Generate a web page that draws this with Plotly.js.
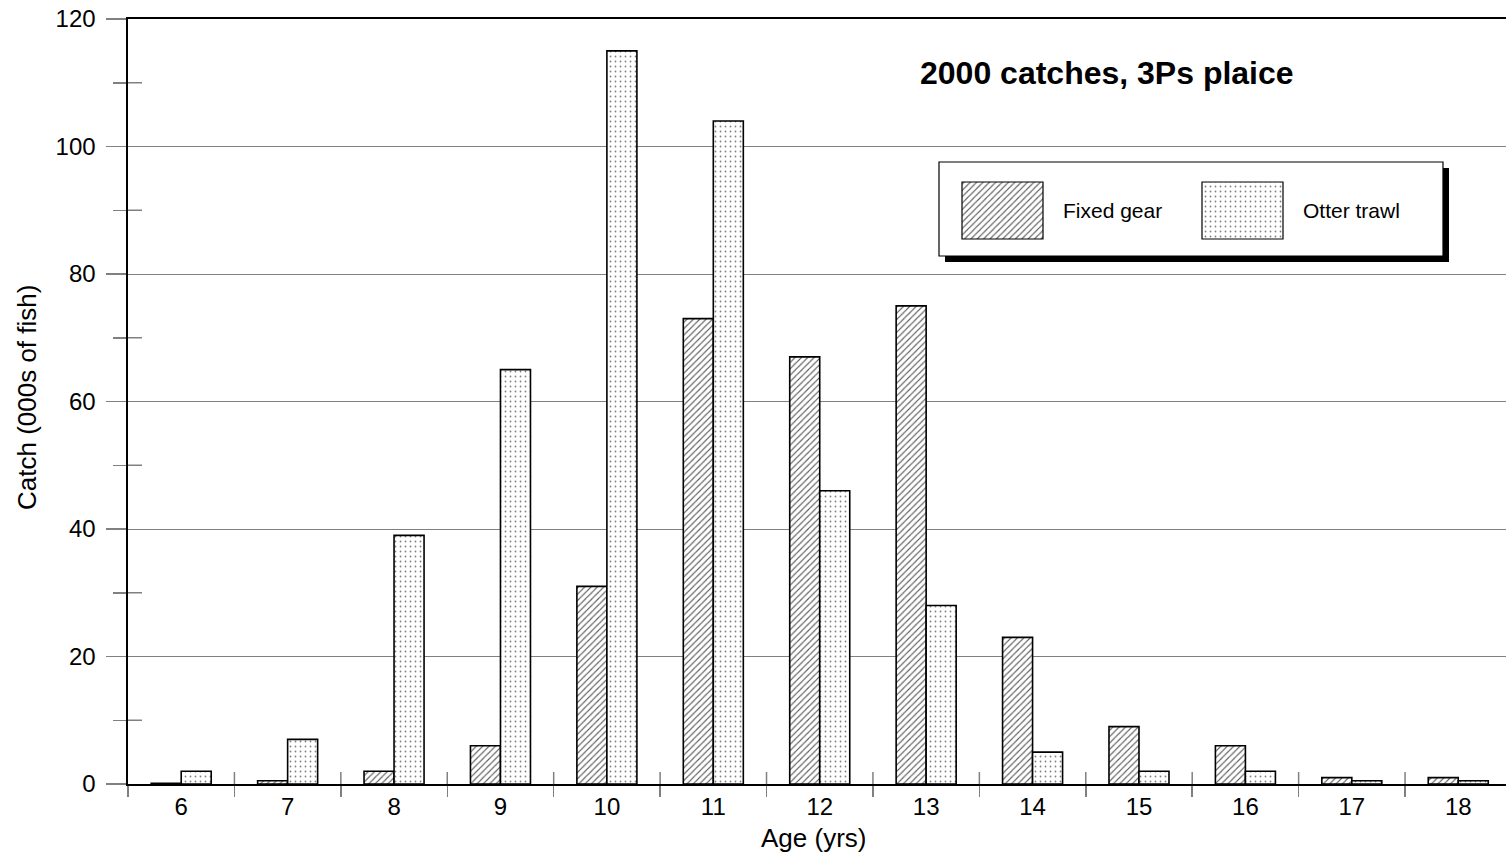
<!DOCTYPE html>
<html>
<head>
<meta charset="utf-8">
<script src="https://cdn.plot.ly/plotly-3.0.1.min.js"></script>
<style>html,body{margin:0;padding:0;background:#fff;}#chart{width:1506px;height:856px;}</style>
</head>
<body>
<div id="chart"></div>
<script>
// ---- data ----
const ages = [6, 7, 8, 9, 10, 11, 12, 13, 14, 15, 16, 17, 18];
const fixedGear = [0.1, 0.5, 2, 6, 31, 73, 67, 75, 23, 9, 6, 1, 1];
const otterTrawl = [2, 7, 39, 65, 115, 104, 46, 28, 5, 2, 2, 0.5, 0.5];
const seriesNames = ['Fixed gear', 'Otter trawl'];
const yTicks = [0, 20, 40, 60, 80, 100, 120];
const yMinorTicks = [10, 30, 50, 70, 90, 110];
const chartTitle = '2000 catches, 3Ps plaice';
const xTitle = 'Age (yrs)';
const yTitle = 'Catch (000s of fish)';

// ---- layout constants (pixels) ----
const W = 1506, H = 856;
const M = {l: 128, r: 0, t: 19, b: 72};
const PW = W - M.l - M.r, PH = H - M.t - M.b;
const catPx = 106.42;
const xMin = ages[0] - 0.5;
const xMax = xMin + PW / catPx;
const FONT = 'Arial, "Liberation Sans", sans-serif';
const GRAY = '#808080';

const boundaries = ages.map(a => a - 0.5);

const hatch = {shape: '/', fgcolor: '#5a5a5a', bgcolor: '#ffffff', size: 4.5, solidity: 0.25};
const dots = {shape: '.', fgcolor: '#808080', bgcolor: '#ffffff', size: 5, solidity: 0.1};
const barLine = {color: '#000000', width: 1.6};

// legend geometry in pixel coords (x2/y2 axes map to pixels)
const LEG = {box: [939, 162, 1443, 256], shadow: 6,
  sw: [{x0: 962, x1: 1043}, {x0: 1202, x1: 1283}], swY: [182, 239],
  text: [1062, 1302], textY: 210};

const traces = [
  {type: 'bar', name: seriesNames[0], x: ages, y: fixedGear,
   marker: {color: '#ffffff', pattern: hatch, line: barLine}, showlegend: false, hoverinfo: 'x+y'},
  {type: 'bar', name: seriesNames[1], x: ages, y: otterTrawl,
   marker: {color: '#ffffff', pattern: dots, line: barLine}, showlegend: false, hoverinfo: 'x+y'},
  // legend swatches
  {type: 'bar', xaxis: 'x2', yaxis: 'y2', x: [(LEG.sw[0].x0 + LEG.sw[0].x1) / 2], width: [LEG.sw[0].x1 - LEG.sw[0].x0],
   base: [LEG.swY[0]], y: [LEG.swY[1] - LEG.swY[0]],
   marker: {color: '#ffffff', pattern: hatch, line: {color: '#000', width: 1.2}}, showlegend: false, hoverinfo: 'skip'},
  {type: 'bar', xaxis: 'x2', yaxis: 'y2', x: [(LEG.sw[1].x0 + LEG.sw[1].x1) / 2], width: [LEG.sw[1].x1 - LEG.sw[1].x0],
   base: [LEG.swY[0]], y: [LEG.swY[1] - LEG.swY[0]],
   marker: {color: '#ffffff', pattern: dots, line: {color: '#000', width: 1.2}}, showlegend: false, hoverinfo: 'skip'}
];

const shapes = [];
// legend shadow and box
shapes.push({type: 'rect', xref: 'x2', yref: 'y2', layer: 'between',
  x0: LEG.box[0] + LEG.shadow, x1: LEG.box[2] + LEG.shadow, y0: LEG.box[1] + LEG.shadow, y1: LEG.box[3] + LEG.shadow,
  fillcolor: '#000', line: {width: 0}});
shapes.push({type: 'rect', xref: 'x2', yref: 'y2', layer: 'between',
  x0: LEG.box[0], x1: LEG.box[2], y0: LEG.box[1], y1: LEG.box[3],
  fillcolor: '#fff', line: {color: '#000', width: 1.2}});
// inside halves of crossing ticks on x axis
boundaries.slice(1).forEach(b => shapes.push({type: 'line', xref: 'x', yref: 'y', ysizemode: 'pixel', yanchor: 0,
  x0: b, x1: b, y0: 0, y1: 12, line: {color: GRAY, width: 1.5}, layer: 'below'}));
// inside halves of minor ticks on y axis
yMinorTicks.forEach(v => shapes.push({type: 'line', xref: 'paper', yref: 'y', xsizemode: 'pixel', xanchor: 0,
  x0: 0, x1: 14, y0: v, y1: v, line: {color: GRAY, width: 1.5}, layer: 'below'}));

const annotations = [
  {xref: 'x2', yref: 'y2', x: 1107, y: 73, text: '<b>' + chartTitle + '</b>', showarrow: false,
   font: {family: FONT, size: 32, color: '#000'}, xanchor: 'center', yanchor: 'middle'},
  {xref: 'x2', yref: 'y2', x: LEG.text[0] - 1, y: LEG.textY, text: seriesNames[0], showarrow: false,
   font: {family: FONT, size: 21, color: '#000'}, xanchor: 'left', yanchor: 'middle'},
  {xref: 'x2', yref: 'y2', x: LEG.text[1] - 1, y: LEG.textY, text: seriesNames[1], showarrow: false,
   font: {family: FONT, size: 21, color: '#000'}, xanchor: 'left', yanchor: 'middle'},
  {xref: 'paper', yref: 'paper', x: (813 - M.l) / PW, y: (784 - 838) / PH, text: xTitle, showarrow: false,
   font: {family: FONT, size: 26, color: '#000'}, xanchor: 'center', yanchor: 'middle'},
  {xref: 'paper', yref: 'paper', x: (27 - M.l) / PW, y: (784 - 398) / PH, text: yTitle, showarrow: false, textangle: -90,
   font: {family: FONT, size: 26, color: '#000'}, xanchor: 'center', yanchor: 'middle'}
];

const layout = {
  width: W, height: H,
  margin: M,
  paper_bgcolor: '#ffffff', plot_bgcolor: 'rgba(0,0,0,0)',
  font: {family: FONT, size: 24, color: '#000'},
  showlegend: false,
  barmode: 'group', bargap: 0.436, bargroupgap: 0,
  xaxis: {range: [xMin, xMax], tickmode: 'array', tickvals: ages, ticktext: ages.map(String),
    ticks: '', showgrid: false, zeroline: false, showline: true, linecolor: '#000', linewidth: 1.6,
    mirror: true, ticklabelstandoff: 1, tickfont: {family: FONT, size: 24, color: '#000'},
    minor: {tickmode: 'array', tickvals: boundaries, ticks: 'outside', ticklen: 11, tickcolor: GRAY, tickwidth: 1.5, showgrid: false},
    fixedrange: true},
  yaxis: {range: [0, 120], tickmode: 'array', tickvals: yTicks, ticks: 'outside', ticklen: 20, tickcolor: GRAY, tickwidth: 1.5,
    showgrid: true, gridcolor: GRAY, gridwidth: 1, zeroline: false, showline: true, linecolor: '#000', linewidth: 1.6,
    ticklabelstandoff: 6, tickfont: {family: FONT, size: 24, color: '#000'},
    minor: {tickmode: 'array', tickvals: yMinorTicks, ticks: 'outside', ticklen: 13, tickcolor: GRAY, tickwidth: 1.5, showgrid: false},
    fixedrange: true},
  xaxis2: {domain: [0, 1], anchor: 'y2', range: [M.l, W - M.r], visible: false, showgrid: false, zeroline: false, fixedrange: true},
  yaxis2: {domain: [0, 1], anchor: 'x2', range: [H - M.b, M.t], visible: false, showgrid: false, zeroline: false, fixedrange: true},
  shapes: shapes,
  annotations: annotations
};

Plotly.newPlot('chart', traces, layout, {displayModeBar: false, staticPlot: true});
</script>
</body>
</html>
